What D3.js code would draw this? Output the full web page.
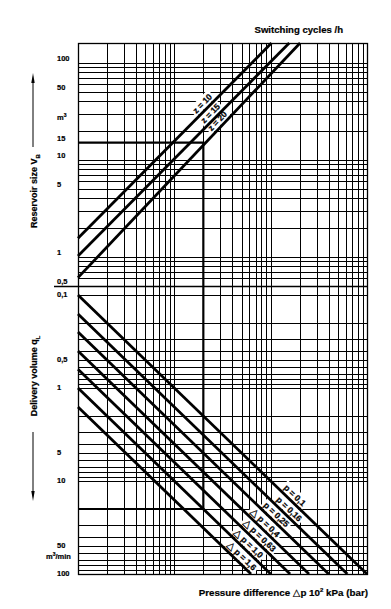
<!DOCTYPE html>
<html><head><meta charset="utf-8">
<script src="https://cdn.jsdelivr.net/npm/d3@7"></script>
<style>body{margin:0;background:#fff}svg{display:block}</style>
</head><body><svg id="c" width="391" height="609"></svg>
<script>
// ---------- data ----------
const xDomain = [1, 1000];          // X = q_L / Δp (unlabelled)
const vDomain = [0.5, 160];         // reservoir size, m³
const qDomain = [0.08, 100];        // delivery volume, m³/min (downwards)
const vTickValues = [100, 50, 15, 10, 5, 1, 0.5];
const vTickLabels = ["100", "50", "15", "10", "5", "1", "0,5"];
const qTickValues = [0.1, 0.5, 1, 5, 10, 50, 100];
const qTickLabels = ["0,1", "0,5", "1", "5", "10", "50", "100"];
const zNames = ["z = 10", "z = 15", "z = 20"];
const zStart = [[1, 1.55], [1, 1.02], [1, 0.61]];
const zEnd = [[102, 160], [156, 160], [202, 160]];
const zLabelAt = [21.8, 26.4, 31.3];
const dpNames = ["p = 0,1", "p = 0,16", "p = 0,25", "△ p = 0,4", "△ p = 0,63", "△ p = 1,0", "△ p = 1,6"];
const dpStart = [[1, 0.1], [1, 0.16], [1, 0.25], [1, 0.4], [1, 0.63], [1, 1.0], [1, 1.6]];
const dpEnd = [[1000, 100], [625, 100], [400, 100], [250, 100], [159, 100], [100, 100], [62.5, 100]];
const dpLabelAt = [160, 140, 103, 79, 69, 53, 45];
const exampleV = 15, exampleX = 20, exampleQ = 20;

// ---------- layout ----------
const L = 78, R = 367, T = 43, MID = 286, B = 574;
const FONT = "'Liberation Sans', Arial, sans-serif";
const svg = d3.select("#c");
svg.append("rect").attr("width", 391).attr("height", 609).attr("fill", "#fff");

const x = d3.scaleLog().domain(xDomain).range([L, R]);
const yV = d3.scaleLog().domain(vDomain).range([MID, T]);
const yQ = d3.scaleLog().domain(qDomain).range([MID, B]);

const grid = svg.append("g").attr("stroke", "#000").attr("stroke-width", 1).attr("shape-rendering", "crispEdges");
grid.selectAll("line.v").data(x.ticks()).join("line")
  .attr("x1", d => Math.round(x(d)) + 0.5).attr("x2", d => Math.round(x(d)) + 0.5)
  .attr("y1", T).attr("y2", B);
svg.append("g").attr("stroke", "#000").attr("stroke-width", 1).attr("shape-rendering", "crispEdges")
  .selectAll("line").data(yV.ticks().filter(d => d > vDomain[0] && d < vDomain[1])).join("line")
  .attr("x1", L).attr("x2", R)
  .attr("y1", d => Math.round(yV(d)) + 0.5).attr("y2", d => Math.round(yV(d)) + 0.5);
svg.append("g").attr("stroke", "#000").attr("stroke-width", 1).attr("shape-rendering", "crispEdges")
  .selectAll("line").data(yQ.ticks().filter(d => d >= 0.1 && d < 100)).join("line")
  .attr("x1", L).attr("x2", R)
  .attr("y1", d => Math.round(yQ(d)) + 0.5).attr("y2", d => Math.round(yQ(d)) + 0.5);

// frame
svg.append("rect").attr("x", L + 0.5).attr("y", T + 0.5).attr("width", R - L).attr("height", B - T)
  .attr("fill", "none").attr("stroke", "#000").attr("stroke-width", 1.3);
svg.append("line").attr("x1", 54).attr("x2", R).attr("y1", MID + 0.5).attr("y2", MID + 0.5)
  .attr("stroke", "#000").attr("stroke-width", 1.3);

function labelGeom(sy, p0, p1, atX) {
  const ax = x(p0[0]), ay = sy(p0[1]), bx = x(p1[0]), by = sy(p1[1]);
  const px = x(atX);
  const t = (px - ax) / (bx - ax);
  const py = ay + t * (by - ay);
  const ang = Math.atan2(by - ay, bx - ax) * 180 / Math.PI;
  return {px, py, ang};
}
const labelLayer = svg.append("g");
const textLayer = svg.append("g");
function addLabel(sy, p0, p1, atX, txt) {
  const g = labelGeom(sy, p0, p1, atX);
  const tr = `translate(${g.px},${g.py}) rotate(${g.ang})`;
  const t = textLayer.append("text")
    .attr("transform", tr)
    .attr("x", 0).attr("y", -3.5)
    .attr("text-anchor", "middle")
    .attr("font-family", FONT).attr("font-weight", "bold").attr("font-size", 8.5)
    .attr("stroke", "#000").attr("stroke-width", 0.25);
  const parts = txt.split("△");
  if (parts.length > 1) {
    t.append("tspan").attr("font-family", "'DejaVu Sans'").attr("font-weight", "normal").attr("font-size", 10).text("△");
    t.append("tspan").text(parts[1]);
  } else t.text(txt);
  const w = t.node().getComputedTextLength();
  labelLayer.append("rect")
    .attr("transform", tr)
    .attr("x", -w / 2 - 2).attr("y", -12.5).attr("width", w + 4).attr("height", 11)
    .attr("fill", "#fff");
}
zNames.forEach((n, i) => addLabel(yV, zStart[i], zEnd[i], zLabelAt[i], n));
dpNames.forEach((n, i) => addLabel(yQ, dpStart[i], dpEnd[i], dpLabelAt[i], n));

const thick = svg.append("g").attr("stroke", "#000").attr("stroke-width", 2.8).attr("fill", "none");
zNames.forEach((n, i) => thick.append("line")
  .attr("x1", x(zStart[i][0])).attr("y1", yV(zStart[i][1]))
  .attr("x2", x(zEnd[i][0])).attr("y2", yV(zEnd[i][1])));
dpNames.forEach((n, i) => thick.append("line")
  .attr("x1", x(dpStart[i][0])).attr("y1", yQ(dpStart[i][1]))
  .attr("x2", x(dpEnd[i][0])).attr("y2", yQ(dpEnd[i][1])));
const ex = svg.append("g").attr("stroke", "#000").attr("stroke-width", 2.2).attr("fill", "none");
ex.append("path").attr("d", `M${L},${yV(exampleV)}H${x(exampleX)}V${yQ(exampleQ)}H${L}`);

textLayer.raise();

const tl = svg.append("g").attr("font-family", FONT).attr("font-weight", "bold").attr("font-size", 7.5)
  .attr("stroke", "#000").attr("stroke-width", 0.2);
vTickValues.forEach((v, i) => tl.append("text").attr("x", 57).attr("y", yV(v) - 2).text(vTickLabels[i]));
qTickValues.forEach((v, i) => tl.append("text").attr("x", 57).attr("y", yQ(v) + 2).text(qTickLabels[i]));
const m3 = tl.append("text").attr("x", 57).attr("y", 120);
m3.append("tspan").text("m");
m3.append("tspan").attr("dy", -3).attr("font-size", 5).text("3");
const m3m = tl.append("text").attr("x", 46).attr("y", 559);
m3m.append("tspan").text("m");
m3m.append("tspan").attr("dy", -3).attr("font-size", 5).text("3");
m3m.append("tspan").attr("dy", 3).text("/min");

const tt = svg.append("g").attr("font-family", FONT).attr("font-weight", "bold").attr("fill", "#000")
  .attr("stroke", "#000").attr("stroke-width", 0.2);
tt.append("text").attr("x", 343).attr("y", 33).attr("text-anchor", "end").attr("font-size", 9.6).text("Switching cycles /h");
const bt = tt.append("text").attr("x", 368).attr("y", 596).attr("text-anchor", "end").attr("font-size", 9.8);
bt.append("tspan").text("Pressure difference ");
bt.append("tspan").attr("font-family", "'DejaVu Sans'").attr("font-weight", "normal").text("△");
bt.append("tspan").text("p 10");
bt.append("tspan").attr("dy", -4).attr("font-size", 6).text("2");
bt.append("tspan").attr("dy", 4).text(" kPa (bar)");

const rv = tt.append("text").attr("transform", "translate(37,191) rotate(-90)").attr("text-anchor", "middle").attr("font-size", 9);
rv.append("tspan").text("Reservoir size V");
rv.append("tspan").attr("dy", 3).attr("font-size", 6).text("B");
const dv = tt.append("text").attr("transform", "translate(37,376) rotate(-90)").attr("text-anchor", "middle").attr("font-size", 9);
dv.append("tspan").text("Delivery volume q");
dv.append("tspan").attr("dy", 3).attr("font-size", 6).text("L");

const ar = svg.append("g").attr("stroke", "#000").attr("stroke-width", 1);
ar.append("line").attr("x1", 33).attr("x2", 33).attr("y1", 147).attr("y2", 80);
ar.append("path").attr("d", "M33,73 L31.3,83 L34.7,83 Z").attr("fill", "#000").attr("stroke", "none");
ar.append("line").attr("x1", 33).attr("x2", 33).attr("y1", 432).attr("y2", 494);
ar.append("path").attr("d", "M33,501 L31.3,491 L34.7,491 Z").attr("fill", "#000").attr("stroke", "none");
</script></body></html>
